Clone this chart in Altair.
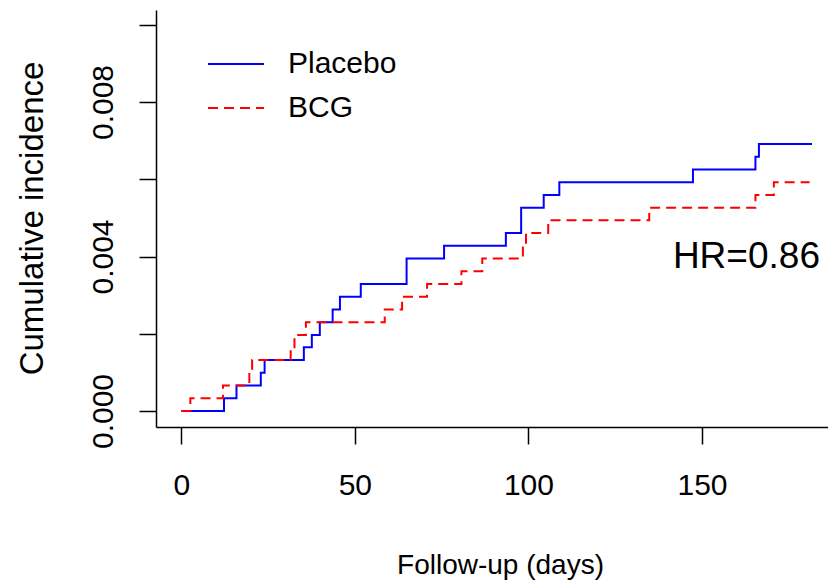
import altair as alt
import pandas as pd

# ---- data ----
placebo_days = [0, 12.3, 15.9, 22.9, 24.0, 35.3, 37.6, 39.9, 43.6, 45.7, 51.7,
                64.9, 75.7, 93.5, 97.9, 104.4, 108.9, 147.4, 165.4, 166.4, 181.7]
placebo_inc = [0, 0.00033, 0.00066, 0.00099, 0.00132, 0.00165, 0.00197, 0.0023,
               0.00263, 0.00296, 0.00329, 0.00395, 0.00428, 0.00461, 0.00526,
               0.00559, 0.00592, 0.00625, 0.00658, 0.00691, 0.00691]

bcg_days = [0, 2.6, 12.0, 19.6, 20.4, 31.5, 32.6, 35.9, 58.6, 63.6, 70.8,
            80.7, 86.7, 98.4, 99.3, 105.7, 134.8, 165.4, 170.7, 181.0]
bcg_inc = [0, 0.00033, 0.00066, 0.00099, 0.00132, 0.00165, 0.00197, 0.0023,
           0.00263, 0.00296, 0.00329, 0.00362, 0.00395, 0.00428, 0.00461,
           0.00494, 0.00526, 0.00559, 0.00592, 0.00592]

groups = ["Placebo", "BCG"]
group_colors = ["#0000ff", "#ff0000"]
group_dashes = [[1, 0], [10, 6]]

x_ticks = [0, 50, 100, 150]
y_ticks = [0, 0.002, 0.004, 0.006, 0.008, 0.010]

hr_label = ["HR=0.86"]
hr_day = [162.8]
hr_inc = [0.0037]

FONT = "Liberation Sans"

df = pd.concat([
    pd.DataFrame({"day": placebo_days, "inc": placebo_inc, "group": "Placebo"}),
    pd.DataFrame({"day": bcg_days, "inc": bcg_inc, "group": "BCG"}),
], ignore_index=True)

hr_df = pd.DataFrame({"day": hr_day, "inc": hr_inc, "label": hr_label})

x_enc = alt.X(
    "day:Q",
    scale=alt.Scale(domain=[-7.29, 186.3], nice=False, zero=False),
    axis=alt.Axis(
        values=x_ticks, title="Follow-up (days)", grid=False,
        tickSize=17, labelPadding=26, labelFontSize=30, labelFont=FONT,
        titleFontSize=28, titleFont=FONT, titleFontWeight="normal",
        titleBaseline="alphabetic", titleX=344, titleY=146, titleAlign="center",
    ),
)
y_enc = alt.Y(
    "inc:Q",
    scale=alt.Scale(domain=[-0.000414, 0.010382], nice=False, zero=False),
    axis=alt.Axis(
        values=y_ticks, title="Cumulative incidence", grid=False,
        labelExpr="round(datum.value*1000) % 4 == 0 ? format(datum.value, '.3f') : ''",
        labelAngle=270, labelAlign="center", labelBaseline="alphabetic",
        tickSize=17, labelPadding=27, labelFontSize=30, labelFont=FONT,
        titleFontSize=33, titleFont=FONT, titleFontWeight="normal",
        titleAngle=270, titleAlign="center", titleBaseline="alphabetic",
        titleX=-114, titleY=208,
    ),
)

legend = alt.Legend(
    title=None, orient="none", legendX=51, legendY=25,
    symbolType="stroke", symbolSize=3136, symbolStrokeWidth=2,
    labelFont=FONT, labelFontSize=30, labelOffset=23, rowPadding=-21,
    labelColor="#000000", padding=0,
)
color_enc = alt.Color("group:N", scale=alt.Scale(domain=groups, range=group_colors), legend=legend)
dash_enc = alt.StrokeDash("group:N", scale=alt.Scale(domain=groups, range=group_dashes), legend=legend)

base = alt.Chart(df)
blue = base.transform_filter(alt.datum.group == "Placebo").mark_line(
    interpolate="step-after", strokeWidth=2
).encode(x=x_enc, y=y_enc, color=color_enc, strokeDash=dash_enc)
red = base.transform_filter(alt.datum.group == "BCG").mark_line(
    interpolate="step-after", strokeWidth=2
).encode(x=x_enc, y=y_enc, color=color_enc, strokeDash=dash_enc)

hr = alt.Chart(hr_df).mark_text(
    font=FONT, fontSize=37, align="center", baseline="alphabetic", color="#000000"
).encode(x="day:Q", y="inc:Q", text="label:N")

chart = alt.layer(blue, red, hr).properties(
    width=672, height=417,
    padding={"left": 148, "top": 2, "right": 0, "bottom": 155},
    autosize=alt.AutoSizeParams(type="none"),
    background="white",
).configure_view(strokeWidth=0).configure_axis(
    domainColor="#000000", domainWidth=1.5, tickColor="#000000", tickWidth=1.5,
    labelColor="#000000", titleColor="#000000",
)

chart.save("out.html", embed_options={"renderer": "svg", "actions": False})
